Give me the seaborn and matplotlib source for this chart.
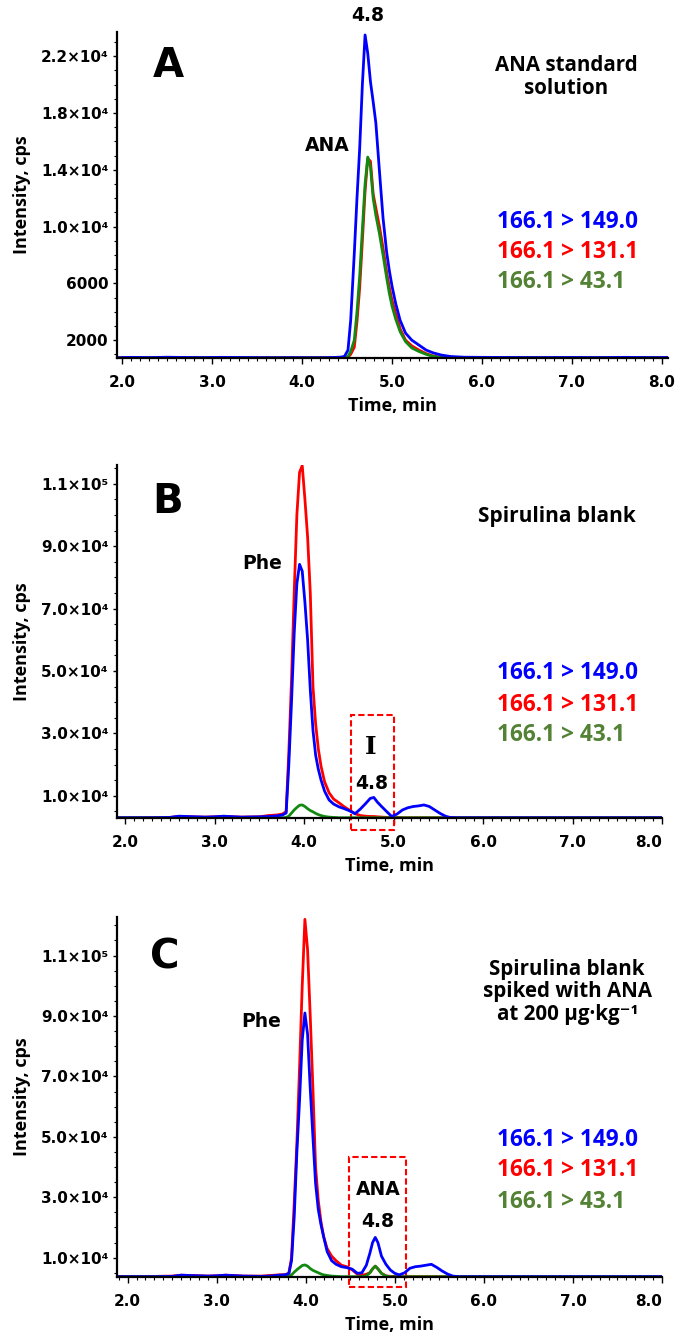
import pandas as pd
import seaborn as sns
import matplotlib.pyplot as plt
from matplotlib.ticker import MultipleLocator
from matplotlib.patches import Rectangle

# ---- data (time in min, intensity in cps) ----
mrm_names = ["166.1 > 149.0", "166.1 > 131.1", "166.1 > 43.1"]

# panel A: ANA standard solution
time_a = [1.94, 2.1, 2.3, 2.5, 2.7, 2.9, 3.1, 3.3, 3.5, 3.7,
          3.9, 4.1, 4.3, 4.42, 4.47, 4.51, 4.54, 4.58, 4.61, 4.64,
          4.67, 4.70, 4.73, 4.76, 4.79, 4.82, 4.86, 4.90, 4.94, 4.97,
          5.00, 5.04, 5.09, 5.15, 5.22, 5.30, 5.38, 5.46, 5.55, 5.65,
          5.8, 6.0, 6.3, 6.6, 7.0, 7.3, 7.6, 7.9, 8.07]
blue_a = [760, 790, 770, 800, 780, 770, 790, 780, 770, 760,
          770, 760, 770, 800, 850, 1300, 3400, 8100, 12000, 15500,
          20000, 23500, 22200, 20200, 18800, 17300, 13900, 10600, 8200, 6900,
          5800, 4600, 3400, 2500, 2000, 1650, 1300, 1100, 950, 850,
          800, 790, 780, 770, 780, 770, 790, 770, 780]
red_a = [760, 770, 760, 780, 770, 760, 780, 770, 760, 770,
         760, 770, 760, 760, 770, 800, 1000, 1500, 3300, 5700,
         9000, 12500, 14800, 14600, 12300, 11300, 10000, 8500, 6800, 5700,
         4800, 3900, 2800, 2000, 1600, 1300, 1050, 880, 800, 770,
         760, 770, 760, 770, 760, 770, 760, 770, 760]
green_a = [750, 760, 750, 760, 750, 760, 750, 760, 750, 760,
           750, 760, 750, 760, 770, 850, 1200, 2000, 4000, 6500,
           9800, 13000, 14900, 14200, 12000, 10800, 9500, 8000, 6400, 5300,
           4400, 3500, 2600, 1900, 1450, 1200, 1000, 850, 780, 760,
           750, 760, 750, 760, 750, 760, 750, 760, 750]

# panel B: Spirulina blank
time_b = [1.91, 2.1, 2.3, 2.5, 2.6, 2.7, 2.9, 3.0, 3.1, 3.3,
          3.5, 3.6, 3.7, 3.76, 3.80, 3.83, 3.86, 3.89, 3.92, 3.95,
          3.98, 4.01, 4.04, 4.07, 4.10, 4.13, 4.16, 4.19, 4.23, 4.28,
          4.33, 4.39, 4.45, 4.51, 4.57, 4.63, 4.69, 4.74, 4.78, 4.82,
          4.87, 4.93, 4.98, 5.04, 5.10, 5.16, 5.22, 5.28, 5.34, 5.40,
          5.46, 5.52, 5.58, 5.63, 5.70, 6.0, 6.5, 7.0, 7.5, 8.0]
blue_b = [3000, 3000, 3000, 3100, 3500, 3400, 3200, 3300, 3500, 3200,
          3300, 3400, 3600, 3900, 4500, 20000, 40000, 62000, 78000, 84200,
          82000, 72000, 60000, 44000, 31000, 23000, 18500, 15100, 11500, 8700,
          7400, 6500, 5900, 5200, 4300, 5800, 7600, 9200, 9500, 8000,
          6500, 4800, 3400, 4200, 5500, 6200, 6600, 6800, 7100, 6600,
          5500, 4400, 3500, 3100, 3000, 3000, 3000, 3000, 3000, 3000]
red_b = [3000, 3000, 3050, 3100, 3400, 3300, 3200, 3300, 3400, 3200,
         3300, 3700, 3900, 4200, 5000, 24000, 47000, 75000, 100000, 113700,
         115800, 105000, 93000, 75000, 45000, 33000, 25000, 19500, 14500, 11000,
         9000, 7800, 6500, 5400, 4300, 3700, 3500, 3400, 3400, 3300,
         3200, 3100, 3100, 3100, 3000, 3000, 3000, 3000, 3000, 3000,
         3000, 3000, 3000, 3000, 3000, 3000, 3000, 3000, 3000, 3000]
green_b = [3000, 3000, 3000, 3000, 3000, 3000, 3000, 3000, 3000, 3000,
           3000, 3000, 3000, 3000, 3100, 3500, 4500, 5500, 6300, 7000,
           7100, 6600, 5900, 5300, 4900, 4400, 4000, 3700, 3400, 3200,
           3100, 3000, 3000, 3000, 3000, 3000, 3000, 3000, 3000, 3000,
           3000, 3000, 3000, 3000, 3000, 3000, 3000, 3000, 3000, 3000,
           3000, 3000, 3000, 3000, 3000, 3000, 3000, 3000, 3000, 3000]

# panel C: Spirulina blank spiked with ANA
time_c = [1.88, 2.1, 2.3, 2.5, 2.6, 2.7, 2.9, 3.0, 3.1, 3.3,
          3.5, 3.6, 3.7, 3.77, 3.81, 3.84, 3.87, 3.90, 3.93, 3.96,
          3.99, 4.02, 4.05, 4.08, 4.11, 4.14, 4.17, 4.20, 4.24, 4.29,
          4.34, 4.40, 4.46, 4.52, 4.58, 4.63, 4.68, 4.72, 4.75, 4.78,
          4.81, 4.85, 4.90, 4.95, 5.00, 5.05, 5.11, 5.17, 5.23, 5.29,
          5.35, 5.41, 5.47, 5.53, 5.59, 5.65, 5.72, 6.0, 6.5, 7.0,
          7.5, 8.0]
blue_c = [3700, 3700, 3700, 3800, 4200, 4100, 3900, 4000, 4200, 3900,
          3800, 3900, 4200, 4300, 4800, 9000, 23500, 45000, 62000, 82000,
          91000, 84000, 66000, 50000, 34600, 26000, 21000, 17000, 12000, 9000,
          7800, 7000, 6700, 6200, 4800, 5000, 7500, 11500, 15000, 16700,
          15000, 10500, 7800, 5900, 4800, 4300, 5000, 6500, 7000, 7200,
          7500, 7800, 6800, 5600, 4600, 3900, 3700, 3700, 3700, 3700,
          3700, 3700]
red_c = [3800, 3800, 3800, 3900, 4200, 4100, 3900, 4000, 4200, 3900,
         3900, 4100, 4300, 4400, 4800, 10000, 28000, 48000, 73000, 100000,
         122000, 112000, 90000, 66000, 40000, 29000, 22000, 17000, 13000, 10500,
         9000, 7500, 7000, 6000, 4500, 4200, 4500, 5000, 6300, 7200,
         6300, 4800, 4000, 3800, 3800, 3700, 3700, 3700, 3700, 3700,
         3700, 3700, 3700, 3700, 3700, 3700, 3700, 3700, 3700, 3700,
         3700, 3700]
green_c = [3700, 3700, 3700, 3700, 3700, 3700, 3700, 3700, 3700, 3700,
           3700, 3700, 3700, 3700, 3800, 4300, 5200, 6000, 6700, 7400,
           7600, 7200, 6400, 5800, 5400, 5000, 4600, 4300, 4100, 3900,
           3800, 3700, 3700, 3700, 3700, 3700, 4000, 5000, 6300, 7200,
           6300, 4800, 3900, 3700, 3700, 3700, 3700, 3700, 3700, 3700,
           3700, 3700, 3700, 3700, 3700, 3700, 3700, 3700, 3700, 3700,
           3700, 3700]

xticks = [2, 3, 4, 5, 6, 7, 8]
xtick_labels = ["2.0", "3.0", "4.0", "5.0", "6.0", "7.0", "8.0"]
yticks_a = [2000, 6000, 10000, 14000, 18000, 22000]
ytick_labels_a = ["2000", "6000", "1.0×10⁴", "1.4×10⁴", "1.8×10⁴", "2.2×10⁴"]
yticks_bc = [10000, 30000, 50000, 70000, 90000, 110000]
ytick_labels_bc = ["1.0×10⁴", "3.0×10⁴", "5.0×10⁴", "7.0×10⁴", "9.0×10⁴", "1.1×10⁵"]

line_colors = {"166.1 > 149.0": "#0000ff", "166.1 > 131.1": "#ff0000", "166.1 > 43.1": "#128a12"}
text_colors = ["#0000ff", "#ff0000", "#548235"]
draw_order = ["166.1 > 131.1", "166.1 > 43.1", "166.1 > 149.0"]

sns.set_style("ticks")
plt.rcParams['font.family'] = ['DejaVu Sans']
plt.rcParams['text.color'] = 'black'
plt.rcParams['axes.labelcolor'] = 'black'
plt.rcParams['xtick.color'] = 'black'
plt.rcParams['ytick.color'] = 'black'
LBL = ['Open Sans', 'DejaVu Sans']


def to_long(t, blue, red, green):
    parts = []
    for name, vals in zip(mrm_names, [blue, red, green]):
        parts.append(pd.DataFrame({"time": t, "intensity": vals, "mrm": name}))
    return pd.concat(parts, ignore_index=True)


def panel(ax, df, xlim, ylim, yticks, ylabels, yminor):
    sns.lineplot(data=df, x="time", y="intensity", hue="mrm", hue_order=draw_order,
                 palette=line_colors, linewidth=2.0, errorbar=None, legend=False, ax=ax)
    ax.set_xlim(*xlim)
    ax.set_ylim(*ylim)
    sns.despine(ax=ax)
    for s in ["left", "bottom"]:
        ax.spines[s].set_linewidth(1.6)
        ax.spines[s].set_color("black")
    ax.set_xticks(xticks, xtick_labels, fontweight="bold", fontsize=11)
    ax.set_yticks(yticks, ylabels, fontweight="bold", fontsize=11)
    ax.xaxis.set_minor_locator(MultipleLocator(0.1))
    ax.yaxis.set_minor_locator(MultipleLocator(yminor))
    ax.tick_params(axis="x", which="major", length=4, width=1, pad=8)
    ax.tick_params(axis="x", which="minor", length=2.5, width=0.8)
    ax.tick_params(axis="y", which="major", length=3, width=1, pad=3)
    ax.tick_params(axis="y", which="minor", length=2, width=0.8)
    ax.set_xlabel("Time, min", family=LBL, fontweight="bold", fontsize=13, labelpad=5)
    ax.set_ylabel("Intensity, cps", family=LBL, fontweight="bold", fontsize=13, labelpad=7)


def legend_text(ax, x, ys):
    for y, name, c in zip(ys, mrm_names, text_colors):
        ax.text(x, y, name, transform=ax.transAxes, family=LBL, fontweight="bold",
                fontsize=16.3, color=c, ha="left", va="center")


fig = plt.figure(figsize=(6.87, 13.38), dpi=100)
ax_a = fig.add_axes([0.1703, 0.7324, 0.802, 0.2436])
ax_b = fig.add_axes([0.1703, 0.3886, 0.7933, 0.2638])
ax_c = fig.add_axes([0.1703, 0.0456, 0.7933, 0.2691])

# A
panel(ax_a, to_long(time_a, blue_a, red_a, green_a), (1.94, 8.07), (740, 23700),
      yticks_a, ytick_labels_a, 1000)
ax_a.text(0.093, 0.896, "A", transform=ax_a.transAxes, fontsize=29, fontweight="bold",
          ha="center", va="center")
ax_a.text(0.815, 0.863, "ANA standard\nsolution", transform=ax_a.transAxes, family=LBL,
          fontweight="bold", fontsize=14.8, ha="center", va="center", linespacing=1.1)
ax_a.text(4.28, 15700, "ANA", fontsize=13.5, fontweight="bold", ha="center", va="center")
ax_a.text(4.73, 24900, "4.8", fontsize=13.5, fontweight="bold", ha="center", va="center")
legend_text(ax_a, 0.690, [0.417, 0.325, 0.233])

# B
panel(ax_b, to_long(time_b, blue_b, red_b, green_b), (1.91, 8.0), (2900, 116000),
      yticks_bc, ytick_labels_bc, 5000)
ax_b.get_xticklabels()[-1].set_horizontalalignment("right")
ax_b.text(0.092, 0.895, "B", transform=ax_b.transAxes, fontsize=29, fontweight="bold",
          ha="center", va="center")
ax_b.text(0.807, 0.855, "Spirulina blank", transform=ax_b.transAxes, family=LBL,
          fontweight="bold", fontsize=15, ha="center", va="center")
ax_b.text(3.53, 84600, "Phe", fontsize=13.5, fontweight="bold", ha="center", va="center")
ax_b.add_patch(Rectangle((4.52, -1000), 0.49, 37000, fill=False, edgecolor="#ff0000",
                         linestyle=(0, (3, 1.5)), linewidth=1.5, clip_on=False))
ax_b.text(4.74, 25700, "I", family="DejaVu Serif", fontsize=18, fontweight="bold",
          ha="center", va="center")
ax_b.text(4.76, 14100, "4.8", fontsize=13.5, fontweight="bold", ha="center", va="center")
legend_text(ax_b, 0.697, [0.411, 0.320, 0.235])

# C
panel(ax_c, to_long(time_c, blue_c, red_c, green_c), (1.88, 8.0), (3600, 122800),
      yticks_bc, ytick_labels_bc, 5000)
ax_c.get_xticklabels()[-1].set_horizontalalignment("right")
ax_c.text(0.088, 0.886, "C", transform=ax_c.transAxes, fontsize=29, fontweight="bold",
          ha="center", va="center")
ax_c.text(0.826, 0.792, "Spirulina blank\nspiked with ANA\nat 200 μg·kg⁻¹",
          transform=ax_c.transAxes, family=LBL, fontweight="bold", fontsize=14.8,
          ha="center", va="center", linespacing=1.1)
ax_c.text(3.5, 88300, "Phe", fontsize=13.5, fontweight="bold", ha="center", va="center")
ax_c.add_patch(Rectangle((4.49, 300), 0.64, 42900, fill=False, edgecolor="#ff0000",
                         linestyle=(0, (3, 1.5)), linewidth=1.5, clip_on=False))
ax_c.text(4.81, 32600, "ANA", fontsize=13.5, fontweight="bold", ha="center", va="center")
ax_c.text(4.81, 22100, "4.8", fontsize=13.5, fontweight="bold", ha="center", va="center")
legend_text(ax_c, 0.697, [0.381, 0.297, 0.208])

fig.savefig("out.png", dpi=100)
